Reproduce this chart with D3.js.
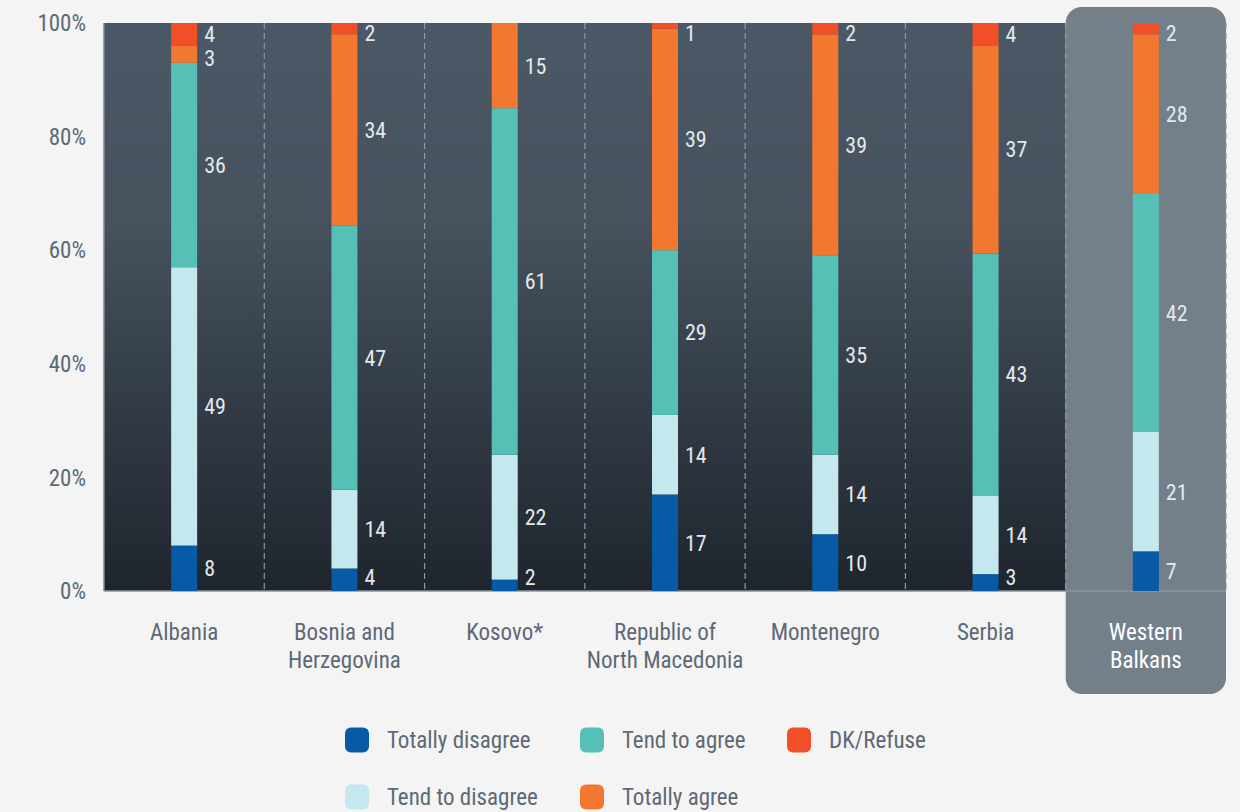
<!DOCTYPE html>
<html>
<head>
<meta charset="utf-8">
<script src="https://cdn.jsdelivr.net/npm/d3@7"></script>
<style>
  body { margin: 0; background: #f4f4f4; }
  svg text { font-family: "Roboto Condensed", "Liberation Sans Narrow", "DejaVu Sans Condensed", Roboto, sans-serif; }
</style>
</head>
<body>
<svg id="chart" width="1240" height="812"></svg>
<script>
// categories and series (values in %)
const countries = ["Albania", "Bosnia and Herzegovina", "Kosovo*", "Republic of North Macedonia", "Montenegro", "Serbia", "Western Balkans"];
const countryLines = [["Albania"], ["Bosnia and", "Herzegovina"], ["Kosovo*"], ["Republic of", "North Macedonia"], ["Montenegro"], ["Serbia"], ["Western", "Balkans"]];
const seriesNames = ["Totally disagree", "Tend to disagree", "Tend to agree", "Totally agree", "DK/Refuse"];
const totallyDisagree = [8, 4, 2, 17, 10, 3, 7];
const tendToDisagree  = [49, 14, 22, 14, 14, 14, 21];
const tendToAgree     = [36, 47, 61, 29, 35, 43, 42];
const totallyAgree    = [3, 34, 15, 39, 39, 37, 28];
const dkRefuse        = [4, 2, 0, 1, 2, 4, 2];
const yTicks = [0, 20, 40, 60, 80, 100];

const colors = ["#065aa6", "#c5e8ef", "#56c0b6", "#f2782f", "#f24e27"];
const legendOrder = [0, 2, 4, 1, 3];

const svg = d3.select("#chart");
const margin = { top: 23, left: 104, right: 14, bottom: 220 };
const W = 1240, H = 812;
const plotW = W - margin.left - margin.right;
const plotH = H - margin.top - margin.bottom - 1;

const rows = countries.map((c, i) => ({
  country: c,
  "Totally disagree": totallyDisagree[i],
  "Tend to disagree": tendToDisagree[i],
  "Tend to agree": tendToAgree[i],
  "Totally agree": totallyAgree[i],
  "DK/Refuse": dkRefuse[i]
}));

const stacked = d3.stack().keys(seriesNames).offset(d3.stackOffsetExpand)(rows);

const x = d3.scaleBand().domain(countries).range([margin.left, margin.left + plotW]).padding(0);
const y = d3.scaleLinear().domain([0, 1]).range([margin.top + plotH, margin.top]);
const barW = 26;

// background gradient
const defs = svg.append("defs");
const grad = defs.append("linearGradient").attr("id", "bg").attr("x1", 0).attr("y1", 0).attr("x2", 0).attr("y2", 1);
grad.append("stop").attr("offset", "0%").attr("stop-color", "#4b5865");
grad.append("stop").attr("offset", "35%").attr("stop-color", "#46525e");
grad.append("stop").attr("offset", "100%").attr("stop-color", "#1e252d");

svg.append("rect")
  .attr("x", margin.left).attr("y", margin.top)
  .attr("width", x("Western Balkans") - margin.left).attr("height", plotH)
  .attr("fill", "url(#bg)");

// highlighted Western Balkans panel
const wbX = x("Western Balkans");
svg.append("rect")
  .attr("x", wbX).attr("y", 7)
  .attr("width", x.bandwidth()).attr("height", 687)
  .attr("rx", 16)
  .attr("fill", "#737f89");

// left border
svg.append("line")
  .attr("x1", margin.left).attr("x2", margin.left)
  .attr("y1", margin.top).attr("y2", margin.top + plotH)
  .attr("stroke", "#7c8893").attr("stroke-width", 1.5);

// dashed separators
const seps = countries.slice(1).map(c => x(c)).concat([margin.left + plotW]);
svg.selectAll(".sep").data(seps).enter().append("line")
  .attr("class", "sep")
  .attr("x1", d => d).attr("x2", d => d)
  .attr("y1", margin.top).attr("y2", margin.top + plotH)
  .attr("stroke", "#8e9aa4")
  .attr("stroke-width", 1.2)
  .attr("stroke-dasharray", "6,4");

// bottom axis line
svg.append("line")
  .attr("x1", margin.left).attr("x2", margin.left + plotW)
  .attr("y1", margin.top + plotH).attr("y2", margin.top + plotH)
  .attr("stroke", "#8a96a0").attr("stroke-width", 1.5);

// y axis labels
svg.selectAll(".ytick").data(yTicks).enter().append("text")
  .attr("x", 86)
  .attr("y", d => y(d / 100))
  .attr("dy", "0.36em")
  .attr("text-anchor", "end")
  .attr("font-size", 23)
  .attr("fill", "#5d6975")
  .text(d => d + "%");

// bars
const layer = svg.selectAll(".layer").data(stacked).enter().append("g")
  .attr("fill", (d, i) => colors[i]);

layer.selectAll("rect").data(d => d).enter().append("rect")
  .attr("x", d => x(d.data.country) + x.bandwidth() / 2 - barW / 2)
  .attr("y", d => y(d[1]))
  .attr("width", barW)
  .attr("height", d => Math.max(0, y(d[0]) - y(d[1])));

// value labels (kept inside the plot area, nudged apart when too close)
const minGap = 24;
countries.forEach((c, ci) => {
  // top to bottom
  const labs = [];
  for (let si = stacked.length - 1; si >= 0; si--) {
    const d = stacked[si][ci];
    const v = d.data[stacked[si].key];
    if (!v) continue;
    let ly = (y(d[0]) + y(d[1])) / 2;
    ly = Math.min(Math.max(ly, margin.top + 10), margin.top + plotH - 14);
    labs.push({ v, ly });
  }
  for (let k = 1; k < labs.length; k++) {
    if (labs[k].ly - labs[k - 1].ly < minGap) labs[k].ly = labs[k - 1].ly + minGap;
  }
  labs.forEach(l => {
    svg.append("text")
      .attr("x", x(c) + x.bandwidth() / 2 + barW / 2 + 7)
      .attr("y", l.ly)
      .attr("dy", "0.36em")
      .attr("font-size", 22)
      .attr("fill", "#e4e8ec")
      .text(l.v);
  });
});

// x labels
countryLines.forEach((lines, i) => {
  const t = svg.append("text")
    .attr("x", x(countries[i]) + x.bandwidth() / 2)
    .attr("y", 640)
    .attr("text-anchor", "middle")
    .attr("font-size", 23)
    .attr("fill", countries[i] === "Western Balkans" ? "#ffffff" : "#5d6975");
  lines.forEach((ln, j) => {
    t.append("tspan").attr("x", x(countries[i]) + x.bandwidth() / 2).attr("dy", j === 0 ? 0 : 28).text(ln);
  });
});

// legend
const legX = [345, 580, 787];
const legY = [740, 797];
legendOrder.forEach((si, k) => {
  const col = k % 3, row = Math.floor(k / 3);
  const g = svg.append("g").attr("transform", `translate(${legX[col]},${legY[row]})`);
  g.append("rect")
    .attr("x", 0).attr("y", -12.5)
    .attr("width", 24).attr("height", 25)
    .attr("rx", 6)
    .attr("fill", colors[si]);
  g.append("text")
    .attr("x", 42).attr("y", 0)
    .attr("dy", "0.36em")
    .attr("font-size", 23)
    .attr("fill", "#5d6975")
    .text(seriesNames[si]);
});
</script>
</body>
</html>
